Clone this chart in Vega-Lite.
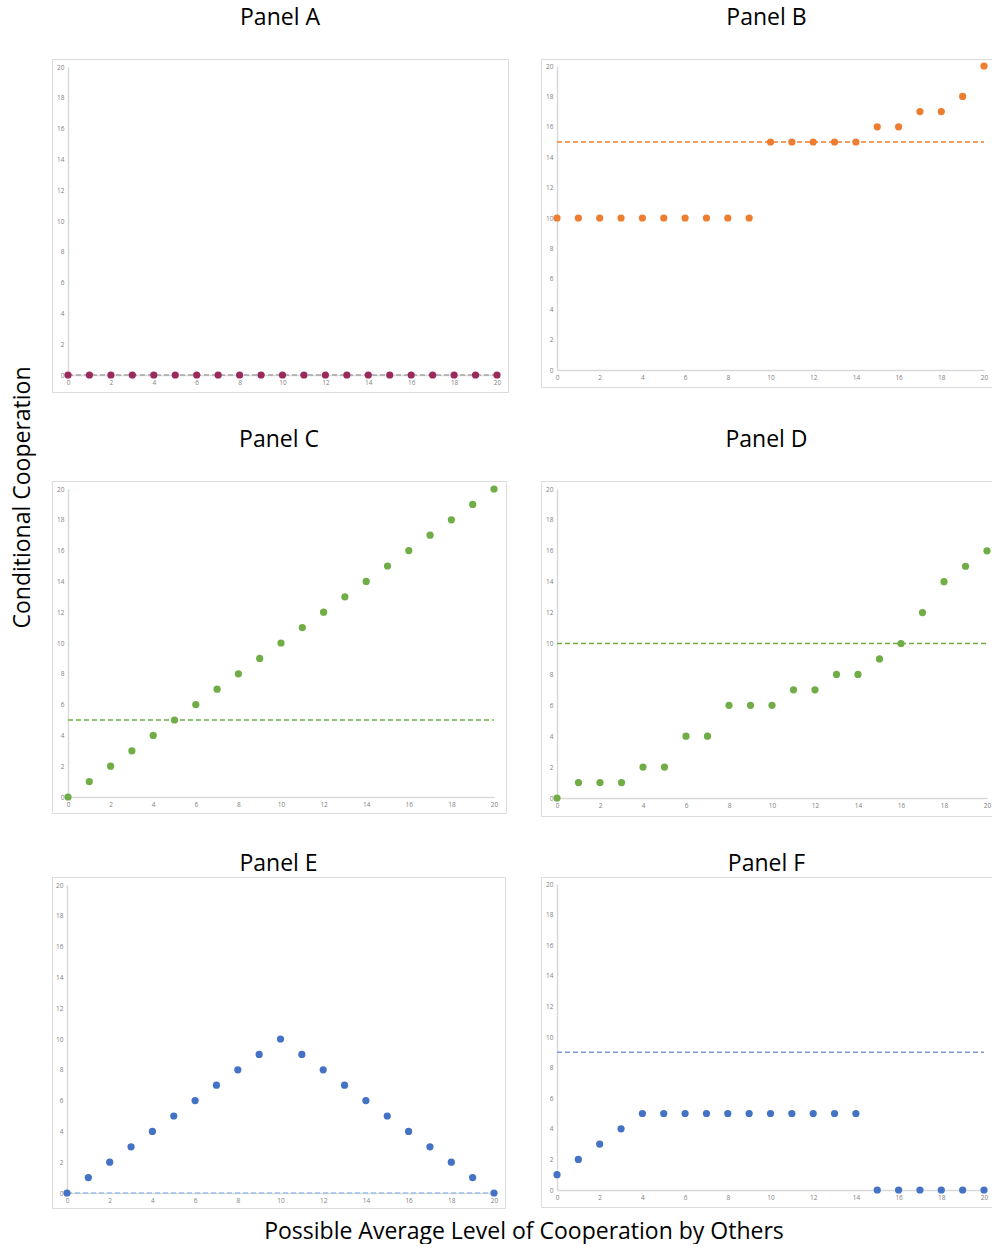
{
  "$schema": "https://vega.github.io/schema/vega-lite/v6.json",
  "padding": {"left": 11, "top": 6, "right": 0, "bottom": 0},
  "background": "white",
  "datasets": {
    "points": [
      {"panel": "A", "x": 0, "y": 0}, {"panel": "A", "x": 1, "y": 0}, {"panel": "A", "x": 2, "y": 0}, {"panel": "A", "x": 3, "y": 0},
      {"panel": "A", "x": 4, "y": 0}, {"panel": "A", "x": 5, "y": 0}, {"panel": "A", "x": 6, "y": 0}, {"panel": "A", "x": 7, "y": 0},
      {"panel": "A", "x": 8, "y": 0}, {"panel": "A", "x": 9, "y": 0}, {"panel": "A", "x": 10, "y": 0}, {"panel": "A", "x": 11, "y": 0},
      {"panel": "A", "x": 12, "y": 0}, {"panel": "A", "x": 13, "y": 0}, {"panel": "A", "x": 14, "y": 0}, {"panel": "A", "x": 15, "y": 0},
      {"panel": "A", "x": 16, "y": 0}, {"panel": "A", "x": 17, "y": 0}, {"panel": "A", "x": 18, "y": 0}, {"panel": "A", "x": 19, "y": 0},
      {"panel": "A", "x": 20, "y": 0},
      {"panel": "B", "x": 0, "y": 10}, {"panel": "B", "x": 1, "y": 10}, {"panel": "B", "x": 2, "y": 10}, {"panel": "B", "x": 3, "y": 10},
      {"panel": "B", "x": 4, "y": 10}, {"panel": "B", "x": 5, "y": 10}, {"panel": "B", "x": 6, "y": 10}, {"panel": "B", "x": 7, "y": 10},
      {"panel": "B", "x": 8, "y": 10}, {"panel": "B", "x": 9, "y": 10}, {"panel": "B", "x": 10, "y": 15}, {"panel": "B", "x": 11, "y": 15},
      {"panel": "B", "x": 12, "y": 15}, {"panel": "B", "x": 13, "y": 15}, {"panel": "B", "x": 14, "y": 15}, {"panel": "B", "x": 15, "y": 16},
      {"panel": "B", "x": 16, "y": 16}, {"panel": "B", "x": 17, "y": 17}, {"panel": "B", "x": 18, "y": 17}, {"panel": "B", "x": 19, "y": 18},
      {"panel": "B", "x": 20, "y": 20},
      {"panel": "C", "x": 0, "y": 0}, {"panel": "C", "x": 1, "y": 1}, {"panel": "C", "x": 2, "y": 2}, {"panel": "C", "x": 3, "y": 3},
      {"panel": "C", "x": 4, "y": 4}, {"panel": "C", "x": 5, "y": 5}, {"panel": "C", "x": 6, "y": 6}, {"panel": "C", "x": 7, "y": 7},
      {"panel": "C", "x": 8, "y": 8}, {"panel": "C", "x": 9, "y": 9}, {"panel": "C", "x": 10, "y": 10}, {"panel": "C", "x": 11, "y": 11},
      {"panel": "C", "x": 12, "y": 12}, {"panel": "C", "x": 13, "y": 13}, {"panel": "C", "x": 14, "y": 14}, {"panel": "C", "x": 15, "y": 15},
      {"panel": "C", "x": 16, "y": 16}, {"panel": "C", "x": 17, "y": 17}, {"panel": "C", "x": 18, "y": 18}, {"panel": "C", "x": 19, "y": 19},
      {"panel": "C", "x": 20, "y": 20},
      {"panel": "D", "x": 0, "y": 0}, {"panel": "D", "x": 1, "y": 1}, {"panel": "D", "x": 2, "y": 1}, {"panel": "D", "x": 3, "y": 1},
      {"panel": "D", "x": 4, "y": 2}, {"panel": "D", "x": 5, "y": 2}, {"panel": "D", "x": 6, "y": 4}, {"panel": "D", "x": 7, "y": 4},
      {"panel": "D", "x": 8, "y": 6}, {"panel": "D", "x": 9, "y": 6}, {"panel": "D", "x": 10, "y": 6}, {"panel": "D", "x": 11, "y": 7},
      {"panel": "D", "x": 12, "y": 7}, {"panel": "D", "x": 13, "y": 8}, {"panel": "D", "x": 14, "y": 8}, {"panel": "D", "x": 15, "y": 9},
      {"panel": "D", "x": 16, "y": 10}, {"panel": "D", "x": 17, "y": 12}, {"panel": "D", "x": 18, "y": 14}, {"panel": "D", "x": 19, "y": 15},
      {"panel": "D", "x": 20, "y": 16},
      {"panel": "E", "x": 0, "y": 0}, {"panel": "E", "x": 1, "y": 1}, {"panel": "E", "x": 2, "y": 2}, {"panel": "E", "x": 3, "y": 3},
      {"panel": "E", "x": 4, "y": 4}, {"panel": "E", "x": 5, "y": 5}, {"panel": "E", "x": 6, "y": 6}, {"panel": "E", "x": 7, "y": 7},
      {"panel": "E", "x": 8, "y": 8}, {"panel": "E", "x": 9, "y": 9}, {"panel": "E", "x": 10, "y": 10}, {"panel": "E", "x": 11, "y": 9},
      {"panel": "E", "x": 12, "y": 8}, {"panel": "E", "x": 13, "y": 7}, {"panel": "E", "x": 14, "y": 6}, {"panel": "E", "x": 15, "y": 5},
      {"panel": "E", "x": 16, "y": 4}, {"panel": "E", "x": 17, "y": 3}, {"panel": "E", "x": 18, "y": 2}, {"panel": "E", "x": 19, "y": 1},
      {"panel": "E", "x": 20, "y": 0},
      {"panel": "F", "x": 0, "y": 1}, {"panel": "F", "x": 1, "y": 2}, {"panel": "F", "x": 2, "y": 3}, {"panel": "F", "x": 3, "y": 4},
      {"panel": "F", "x": 4, "y": 5}, {"panel": "F", "x": 5, "y": 5}, {"panel": "F", "x": 6, "y": 5}, {"panel": "F", "x": 7, "y": 5},
      {"panel": "F", "x": 8, "y": 5}, {"panel": "F", "x": 9, "y": 5}, {"panel": "F", "x": 10, "y": 5}, {"panel": "F", "x": 11, "y": 5},
      {"panel": "F", "x": 12, "y": 5}, {"panel": "F", "x": 13, "y": 5}, {"panel": "F", "x": 14, "y": 5}, {"panel": "F", "x": 15, "y": 0},
      {"panel": "F", "x": 16, "y": 0}, {"panel": "F", "x": 17, "y": 0}, {"panel": "F", "x": 18, "y": 0}, {"panel": "F", "x": 19, "y": 0},
      {"panel": "F", "x": 20, "y": 0}
    ],
    "means": [
      {"panel": "A", "level": 0, "from": 0, "to": 20},
      {"panel": "B", "level": 15, "from": 0, "to": 20},
      {"panel": "C", "level": 5, "from": 0, "to": 20},
      {"panel": "D", "level": 10, "from": 0, "to": 20},
      {"panel": "E", "level": 0, "from": 0, "to": 20},
      {"panel": "F", "level": 9, "from": 0, "to": 20}
    ]
  },
  "config": {
    "font": "Open Sans",
    "view": {"stroke": "#dcdcdc", "strokeWidth": 1},
    "axis": {
      "ticks": false,
      "grid": false,
      "domainColor": "#d9d9d9",
      "domainWidth": 1.5,
      "labelFont": "Open Sans",
      "labelFontSize": 6.5,
      "labelColor": "#7f7f7f",
      "labelFlush": false,
      "labelPadding": 4
    },
    "title": {"font": "Open Sans", "fontWeight": "normal", "color": "#000000", "fontSize": 23, "anchor": "middle"}
  },
  "title": {"text": "Possible Average Level of Cooperation by Others", "orient": "bottom", "offset": 12, "dx": 22, "fontSize": 23},
  "vconcat": [
    {
      "title": {"text": "Conditional Cooperation", "orient": "left", "offset": 17, "fontSize": 23, "dx": 110},
      "spacing": 35,
      "vconcat": [
        {
          "spacing": 31,
          "hconcat": [
            {
              "width": 456, "height": 333,
              "title": {"text": "Panel A", "offset": 29, "frame": "group"},
              "layer": [
                {
                  "data": {"name": "means"},
                  "transform": [{"filter": "datum.panel === 'A'"}],
                  "mark": {"type": "rule", "color": "#a6a6a6", "strokeWidth": 1.5, "strokeDash": [5, 3]},
                  "encoding": {
                    "x": {"field": "from", "type": "quantitative", "scale": {"domain": [0, 20], "range": [16, 445], "nice": false},
                          "axis": {"title": null, "offset": -17, "labelOverlap": false, "tickCount": 11, "values": [0, 2, 4, 6, 8, 10, 12, 14, 16, 18, 20]}},
                    "x2": {"field": "to"},
                    "y": {"field": "level", "type": "quantitative", "scale": {"domain": [0, 20], "range": [316, 8], "nice": false},
                          "axis": {"title": null, "offset": -16, "labelOverlap": false, "tickCount": 11, "values": [0, 2, 4, 6, 8, 10, 12, 14, 16, 18, 20]}}
                  }
                },
                {
                  "data": {"name": "points"},
                  "transform": [{"filter": "datum.panel === 'A'"}],
                  "mark": {"type": "circle", "size": 52, "opacity": 1, "color": "#9b2a5c"},
                  "encoding": {
                    "x": {"field": "x", "type": "quantitative"},
                    "y": {"field": "y", "type": "quantitative"}
                  }
                }
              ]
            },
            {
              "width": 451, "height": 328,
              "title": {"text": "Panel B", "offset": 29, "frame": "group"},
              "layer": [
                {
                  "data": {"name": "means"},
                  "transform": [{"filter": "datum.panel === 'B'"}],
                  "mark": {"type": "rule", "color": "#ed7d31", "strokeWidth": 1.5, "strokeDash": [5, 3]},
                  "encoding": {
                    "x": {"field": "from", "type": "quantitative", "scale": {"domain": [0, 20], "range": [16, 443], "nice": false},
                          "axis": {"title": null, "offset": -17, "labelOverlap": false, "tickCount": 11, "values": [0, 2, 4, 6, 8, 10, 12, 14, 16, 18, 20]}},
                    "x2": {"field": "to"},
                    "y": {"field": "level", "type": "quantitative", "scale": {"domain": [0, 20], "range": [311, 7], "nice": false},
                          "axis": {"title": null, "offset": -16, "labelOverlap": false, "tickCount": 11, "values": [0, 2, 4, 6, 8, 10, 12, 14, 16, 18, 20]}}
                  }
                },
                {
                  "data": {"name": "points"},
                  "transform": [{"filter": "datum.panel === 'B'"}],
                  "mark": {"type": "circle", "size": 52, "opacity": 1, "color": "#ed7d31"},
                  "encoding": {
                    "x": {"field": "x", "type": "quantitative"},
                    "y": {"field": "y", "type": "quantitative"}
                  }
                }
              ]
            }
          ]
        },
        {
          "spacing": 33,
          "hconcat": [
            {
              "width": 454, "height": 332,
              "title": {"text": "Panel C", "offset": 29, "frame": "group"},
              "layer": [
                {
                  "data": {"name": "means"},
                  "transform": [{"filter": "datum.panel === 'C'"}],
                  "mark": {"type": "rule", "color": "#70ad47", "strokeWidth": 1.5, "strokeDash": [5, 3]},
                  "encoding": {
                    "x": {"field": "from", "type": "quantitative", "scale": {"domain": [0, 20], "range": [16, 442], "nice": false},
                          "axis": {"title": null, "offset": -16, "labelOverlap": false, "tickCount": 11, "values": [0, 2, 4, 6, 8, 10, 12, 14, 16, 18, 20]}},
                    "x2": {"field": "to"},
                    "y": {"field": "level", "type": "quantitative", "scale": {"domain": [0, 20], "range": [316, 8], "nice": false},
                          "axis": {"title": null, "offset": -16, "labelOverlap": false, "tickCount": 11, "values": [0, 2, 4, 6, 8, 10, 12, 14, 16, 18, 20]}}
                  }
                },
                {
                  "data": {"name": "points"},
                  "transform": [{"filter": "datum.panel === 'C'"}],
                  "mark": {"type": "circle", "size": 52, "opacity": 1, "color": "#70ad47"},
                  "encoding": {
                    "x": {"field": "x", "type": "quantitative"},
                    "y": {"field": "y", "type": "quantitative"}
                  }
                }
              ]
            },
            {
              "width": 451, "height": 335,
              "title": {"text": "Panel D", "offset": 29, "frame": "group"},
              "layer": [
                {
                  "data": {"name": "means"},
                  "transform": [{"filter": "datum.panel === 'D'"}],
                  "mark": {"type": "rule", "color": "#70ad47", "strokeWidth": 1.5, "strokeDash": [5, 3]},
                  "encoding": {
                    "x": {"field": "from", "type": "quantitative", "scale": {"domain": [0, 20], "range": [16, 446], "nice": false},
                          "axis": {"title": null, "offset": -18, "labelOverlap": false, "tickCount": 11, "values": [0, 2, 4, 6, 8, 10, 12, 14, 16, 18, 20]}},
                    "x2": {"field": "to"},
                    "y": {"field": "level", "type": "quantitative", "scale": {"domain": [0, 20], "range": [317, 8], "nice": false},
                          "axis": {"title": null, "offset": -16, "labelOverlap": false, "tickCount": 11, "values": [0, 2, 4, 6, 8, 10, 12, 14, 16, 18, 20]}}
                  }
                },
                {
                  "data": {"name": "points"},
                  "transform": [{"filter": "datum.panel === 'D'"}],
                  "mark": {"type": "circle", "size": 52, "opacity": 1, "color": "#70ad47"},
                  "encoding": {
                    "x": {"field": "x", "type": "quantitative"},
                    "y": {"field": "y", "type": "quantitative"}
                  }
                }
              ]
            }
          ]
        },
        {
          "spacing": 34,
          "hconcat": [
            {
              "width": 453, "height": 331,
              "title": {"text": "Panel E", "offset": 1, "frame": "group"},
              "layer": [
                {
                  "data": {"name": "means"},
                  "transform": [{"filter": "datum.panel === 'E'"}],
                  "mark": {"type": "rule", "color": "#9dc3e6", "strokeWidth": 1.5, "strokeDash": [5, 3]},
                  "encoding": {
                    "x": {"field": "from", "type": "quantitative", "scale": {"domain": [0, 20], "range": [15, 442], "nice": false},
                          "axis": {"title": null, "offset": -15, "labelOverlap": false, "tickCount": 11, "values": [0, 2, 4, 6, 8, 10, 12, 14, 16, 18, 20]}},
                    "x2": {"field": "to"},
                    "y": {"field": "level", "type": "quantitative", "scale": {"domain": [0, 20], "range": [316, 8], "nice": false},
                          "axis": {"title": null, "offset": -15, "labelOverlap": false, "tickCount": 11, "values": [0, 2, 4, 6, 8, 10, 12, 14, 16, 18, 20]}}
                  }
                },
                {
                  "data": {"name": "points"},
                  "transform": [{"filter": "datum.panel === 'E'"}],
                  "mark": {"type": "circle", "size": 52, "opacity": 1, "color": "#4472c4"},
                  "encoding": {
                    "x": {"field": "x", "type": "quantitative"},
                    "y": {"field": "y", "type": "quantitative"}
                  }
                }
              ]
            },
            {
              "width": 451, "height": 330,
              "title": {"text": "Panel F", "offset": 1, "frame": "group"},
              "layer": [
                {
                  "data": {"name": "means"},
                  "transform": [{"filter": "datum.panel === 'F'"}],
                  "mark": {"type": "rule", "color": "#7a9bd8", "strokeWidth": 1.5, "strokeDash": [5, 3]},
                  "encoding": {
                    "x": {"field": "from", "type": "quantitative", "scale": {"domain": [0, 20], "range": [16, 443], "nice": false},
                          "axis": {"title": null, "offset": -17, "labelOverlap": false, "tickCount": 11, "values": [0, 2, 4, 6, 8, 10, 12, 14, 16, 18, 20]}},
                    "x2": {"field": "to"},
                    "y": {"field": "level", "type": "quantitative", "scale": {"domain": [0, 20], "range": [313, 7], "nice": false},
                          "axis": {"title": null, "offset": -16, "labelOverlap": false, "tickCount": 11, "values": [0, 2, 4, 6, 8, 10, 12, 14, 16, 18, 20]}}
                  }
                },
                {
                  "data": {"name": "points"},
                  "transform": [{"filter": "datum.panel === 'F'"}],
                  "mark": {"type": "circle", "size": 52, "opacity": 1, "color": "#4472c4"},
                  "encoding": {
                    "x": {"field": "x", "type": "quantitative"},
                    "y": {"field": "y", "type": "quantitative"}
                  }
                }
              ]
            }
          ]
        }
      ]
    }
  ]
}
